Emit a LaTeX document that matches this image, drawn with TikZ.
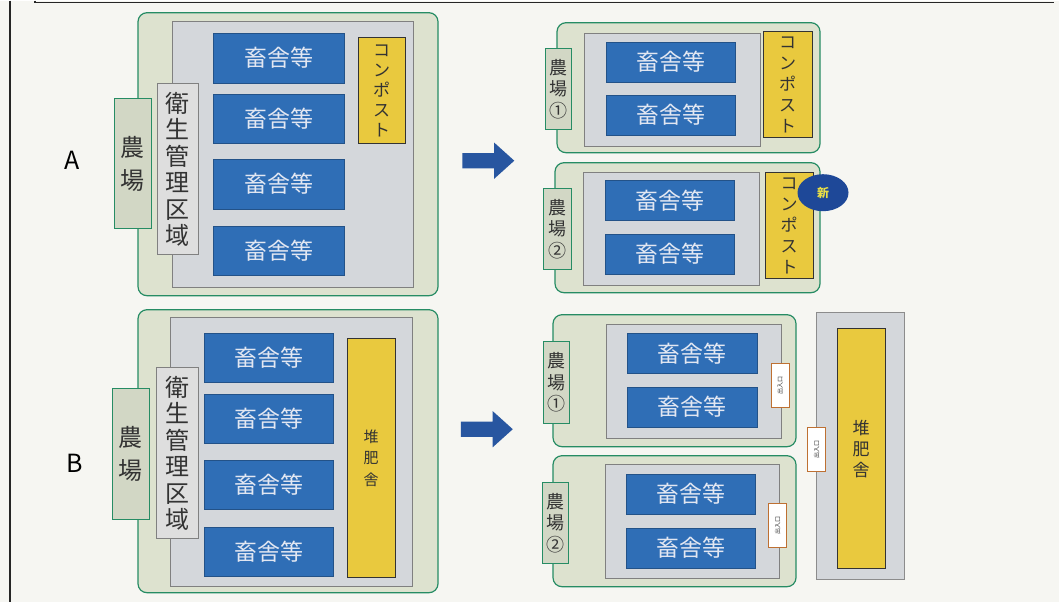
\documentclass[tikz,border=0pt]{standalone}
\usepackage{fontspec}
\setmainfont{Noto Sans CJK JP}
\usetikzlibrary{shapes.arrows,shapes.geometric}

\definecolor{paper}{RGB}{246,246,242}
\definecolor{farmfill}{RGB}{221,226,207}
\definecolor{farmline}{RGB}{38,140,100}
\definecolor{zonefill}{RGB}{212,215,219}
\definecolor{zoneline}{RGB}{128,128,128}
\definecolor{barnblue}{RGB}{47,110,182}
\definecolor{barntext}{RGB}{226,231,242}
\definecolor{compyellow}{RGB}{233,201,62}
\definecolor{arrowblue}{RGB}{40,86,160}
\definecolor{gateline}{RGB}{190,112,50}
\definecolor{newblue}{RGB}{30,72,152}
\definecolor{newtext}{RGB}{232,222,70}

\begin{document}
\begin{tikzpicture}
      [x=1pt, y=-1pt,
      every node/.style={inner sep=0pt, outer sep=0pt, align=center, text=black!80},
      farm/.style={draw=farmline, fill=farmfill, line width=1.2pt, rounded corners=9pt},
      zone/.style={draw=zoneline, fill=zonefill, line width=0.8pt},
      barn/.style={draw=barnblue!75!black, fill=barnblue, line width=0.6pt, text=barntext,
        font=\fontsize{23}{23}\selectfont},
      compost/.style={draw=black!80, fill=compyellow, line width=1pt},
      farmlabel/.style={draw=farmline, fill=farmfill!95!black, line width=1pt},
      hyglabel/.style={draw=zoneline, fill=black!13, line width=0.8pt,
        font=\fontsize{24}{26.5}\selectfont},
      gate/.style={draw=gateline, fill=white, line width=0.9pt, rotate=90,
        minimum width=44pt, minimum height=18pt, font=\fontsize{6}{6}\selectfont},
      bigarrow/.style={single arrow, fill=arrowblue, inner xsep=0pt, inner ysep=7.5pt,
        minimum height=52pt, minimum width=36pt,
        single arrow head extend=10.5pt, single arrow tip angle=84},
      letter/.style={font=\fontsize{25}{25}\selectfont, text=black},
      ]
      % frame
      \fill[paper] (0,0) rectangle (1059,601);
      \draw[black!85, line width=1.4pt] (10,0) -- (10,601);
      \draw[black!85, line width=1.2pt] (35,0) |- (1054,2);

      % A: before
      \node[letter] (letA) at (72,160) {A};
      \node[farm, minimum width=300pt, minimum height=283pt] (farmA) at (288,153.5) {};
      \node[zone, minimum width=241pt, minimum height=266pt] (zoneA) at (292.5,154) {};
      \node[farmlabel, minimum width=37pt, minimum height=130pt,
        font=\fontsize{24}{33}\selectfont] (labelA) at (132.5,163) {農\\場};
      \node[hyglabel, minimum width=41pt, minimum height=171pt] (hygA) at (177.5,168.5)
        {衛\\生\\管\\理\\区\\域};
      \node[barn, minimum width=131pt, minimum height=49.5pt] (barnA1) at (278.5,57.5) {畜舎等};
      \node[barn, minimum width=131pt, minimum height=49.5pt] (barnA2) at (278.5,118) {畜舎等};
      \node[barn, minimum width=131pt, minimum height=49.5pt] (barnA3) at (278.5,183.5) {畜舎等};
      \node[barn, minimum width=131pt, minimum height=49.5pt] (barnA4) at (278.5,250) {畜舎等};
      \node[compost, minimum width=47pt, minimum height=106pt,
        font=\fontsize{17}{20}\selectfont] (compA) at (381.5,90) {コ\\ン\\ポ\\ス\\ト};
      \node[bigarrow] (arrowA) at (484,160) {};

      % A: after
      \node[farm, minimum width=263pt, minimum height=130pt] (farmA1) at (688.5,87) {};
      \node[zone, minimum width=176pt, minimum height=113pt] (zoneA1) at (672,89.5) {};
      \node[farmlabel, minimum width=26pt, minimum height=81pt,
        font=\fontsize{18}{21.5}\selectfont] (labelA1) at (558,88.5) {農\\場\\①};
      \node[barn, minimum width=129pt, minimum height=40pt] (barnA11) at (670.5,61.5) {畜舎等};
      \node[barn, minimum width=129pt, minimum height=40pt] (barnA12) at (670.5,114.5) {畜舎等};
      \node[compost, minimum width=49pt, minimum height=106pt,
        font=\fontsize{17}{21}\selectfont] (compA1) at (787.5,84) {コ\\ン\\ポ\\ス\\ト};

      \node[farm, minimum width=265pt, minimum height=130pt] (farmA2) at (687.5,227) {};
      \node[zone, minimum width=176pt, minimum height=113pt] (zoneA2) at (671,228.5) {};
      \node[farmlabel, minimum width=28pt, minimum height=81pt,
        font=\fontsize{18}{21.5}\selectfont] (labelA2) at (557,228.5) {農\\場\\②};
      \node[barn, minimum width=129pt, minimum height=40pt] (barnA21) at (669.5,200) {畜舎等};
      \node[barn, minimum width=129pt, minimum height=40pt] (barnA22) at (669.5,253.5) {畜舎等};
      \node[compost, minimum width=48pt, minimum height=106pt,
        font=\fontsize{17}{21}\selectfont] (compA2) at (789,225) {コ\\ン\\ポ\\ス\\ト};
      \node[ellipse, fill=newblue, minimum width=51pt, minimum height=37pt, text=newtext,
        font=\fontsize{12}{12}\selectfont\bfseries] (newA2) at (823,192) {新};

      % B: before
      \node[letter] (letB) at (75,463) {B};
      \node[farm, minimum width=300pt, minimum height=283pt] (farmB) at (288,450.5) {};
      \node[zone, minimum width=242pt, minimum height=269pt] (zoneB) at (291,451.5) {};
      \node[farmlabel, minimum width=37pt, minimum height=131pt,
        font=\fontsize{24}{33}\selectfont] (labelB) at (130.5,453.5) {農\\場};
      \node[hyglabel, minimum width=42pt, minimum height=171pt] (hygB) at (177,452.5)
        {衛\\生\\管\\理\\区\\域};
      \node[barn, minimum width=129pt, minimum height=49pt] (barnB1) at (268.5,357.5) {畜舎等};
      \node[barn, minimum width=129pt, minimum height=49pt] (barnB2) at (268.5,418.5) {畜舎等};
      \node[barn, minimum width=129pt, minimum height=49pt] (barnB3) at (268.5,484.5) {畜舎等};
      \node[barn, minimum width=129pt, minimum height=49pt] (barnB4) at (268.5,551) {畜舎等};
      \node[compost, minimum width=48pt, minimum height=239pt,
        font=\fontsize{15}{21.5}\selectfont] (compB) at (371,457.5) {堆\\肥\\舎};
      \node[bigarrow] (arrowB) at (482.5,428.5) {};

      % B: after
      \node[farm, minimum width=243pt, minimum height=132pt] (farmB1) at (674.5,380) {};
      \node[zone, minimum width=175pt, minimum height=114pt] (zoneB1) at (693.5,381) {};
      \node[farmlabel, minimum width=26pt, minimum height=82pt,
        font=\fontsize{18}{21.5}\selectfont] (labelB1) at (556,382) {農\\場\\①};
      \node[barn, minimum width=130pt, minimum height=40pt] (barnB11) at (692,353) {畜舎等};
      \node[barn, minimum width=130pt, minimum height=40pt] (barnB12) at (692,406.5) {畜舎等};
      \node[gate] (gateB1) at (780,385) {出入口};

      \node[farm, minimum width=243pt, minimum height=131pt] (farmB2) at (674.5,520.5) {};
      \node[zone, minimum width=174pt, minimum height=114pt] (zoneB2) at (692,521) {};
      \node[farmlabel, minimum width=26pt, minimum height=81pt,
        font=\fontsize{18}{21.5}\selectfont] (labelB2) at (555,522.5) {農\\場\\②};
      \node[barn, minimum width=129pt, minimum height=40pt] (barnB21) at (690.5,493.5) {畜舎等};
      \node[barn, minimum width=129pt, minimum height=40pt] (barnB22) at (690.5,547.5) {畜舎等};
      \node[gate] (gateB2) at (777.5,524.5) {出入口};

      \node[zone, draw=black!45, minimum width=88pt, minimum height=267pt] (yardB) at (860,445.5) {};
      \node[compost, minimum width=48pt, minimum height=240pt,
        font=\fontsize{17}{21}\selectfont] (compB3) at (861,448) {堆\\肥\\舎};
      \node[gate] (gateB3) at (816.5,448.5) {出入口};
      \end{tikzpicture}
\end{document}
